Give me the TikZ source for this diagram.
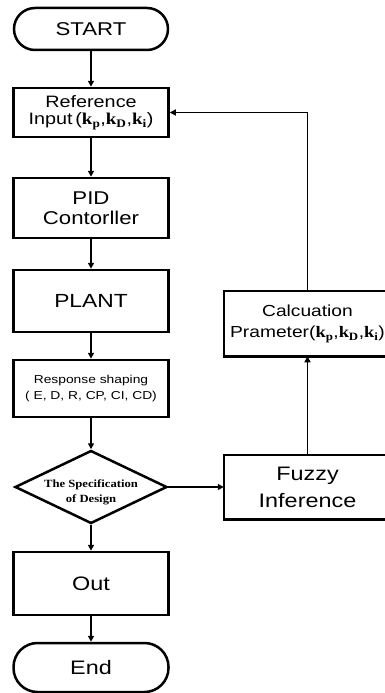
\documentclass[tikz,border=0pt]{standalone}
\usepackage{fontspec}
\setmainfont[FakeStretch=1.2]{Liberation Sans}
\newfontfamily\dserif[FakeStretch=1.15]{Liberation Serif}
\newcommand{\kpar}[1]{{\dserif\bfseries k\textsubscript{#1}}}
\usetikzlibrary{arrows.meta,shapes.geometric}
\tikzset{
  box/.style={draw, line width=2.5pt, rectangle, align=center, inner sep=0pt},
  openbox/.style={rectangle, align=center, inner sep=0pt, outer sep=1.25pt},
  term/.style={box, rounded corners=#1},
  arr/.style={line width=1.5pt, -{Triangle[length=6pt,width=6pt]}},
  dec/.style={draw, line width=2.5pt, diamond, aspect=2.08, inner sep=0pt},
  border/.style={line width=2.5pt}
}
\begin{document}
\begin{tikzpicture}[x=1pt,y=-1pt]
\useasboundingbox (0,0) rectangle (385,693);
\node[term=21pt, minimum width=154, minimum height=42,
      font=\fontsize{18.5}{20}\selectfont] (start) at (91,29) {START};
\node[box, minimum width=155, minimum height=49,
      font=\fontsize{16.5}{17}\selectfont] (ref) at (91,112.5)
      {Reference\\Input\,(\kpar{p},\kpar{D},\kpar{i})};
\node[box, minimum width=155, minimum height=60,
      font=\fontsize{18.5}{20}\selectfont] (pid) at (91,208) {PID\\Contorller};
\node[box, minimum width=155, minimum height=62,
      font=\fontsize{19}{20}\selectfont] (plant) at (91,301) {PLANT};
\node[box, minimum width=155, minimum height=57,
      font=\fontsize{11.5}{16.5}\selectfont] (resp) at (91,388.5)
      {Response shaping\\( E, D, R, CP, CI, CD)};
\node[dec, minimum width=152, minimum height=73] (spec) at (91,487) {};
\node[font=\dserif\bfseries\fontsize{11}{15}\selectfont, align=center, inner sep=0pt]
      (spectext) at (91,492) {The Specification\\of Design};
\node[box, minimum width=155, minimum height=63,
      font=\fontsize{19.5}{20}\selectfont] (out) at (91,583.5) {Out};
\node[term=24pt, minimum width=155, minimum height=49,
      font=\fontsize{19.5}{20}\selectfont] (end) at (91,667.5) {End};
\node[openbox, minimum width=165, minimum height=63,
      font=\fontsize{16}{21.5}\selectfont] (calc) at (307.5,323.5)
      {Calcuation\\Prameter(\kpar{p},\kpar{D},\kpar{i})};
\draw[border] (calc.north west) rectangle ([xshift=40pt]calc.south east);
\node[openbox, minimum width=165, minimum height=62,
      font=\fontsize{19.5}{27}\selectfont] (fuzzy) at (307.5,487) {Fuzzy\\Inference};
\draw[border] (fuzzy.north west) rectangle ([xshift=40pt]fuzzy.south east);
\draw[arr] (start) -- (ref);
\draw[arr] (ref) -- (pid);
\draw[arr] (pid) -- (plant);
\draw[arr] (plant) -- (resp);
\draw[arr] (resp) -- (spec);
\draw[arr] (spec) -- (out);
\draw[arr] (out) -- (end);
\draw[arr] (spec.east) -- (fuzzy.west);
\draw[arr] (fuzzy) -- (calc);
\draw[arr] (calc.north) |- (ref.east);
\end{tikzpicture}
\end{document}
